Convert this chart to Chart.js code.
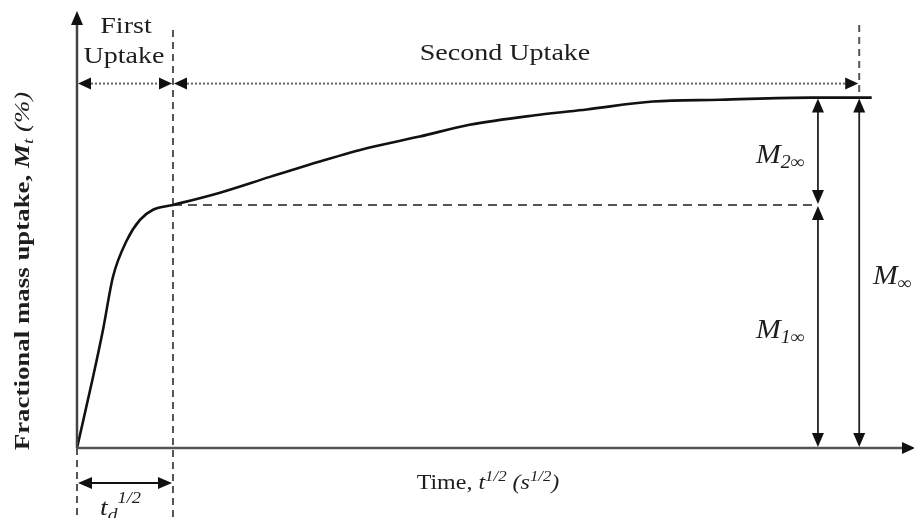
<!DOCTYPE html>
<html>
<head>
<meta charset="utf-8">
<script src="https://cdn.jsdelivr.net/npm/chart.js@4/dist/chart.umd.min.js"></script>
<style>
html,body{margin:0;padding:0;background:#fff;}
#wrap{width:914px;height:518px;position:relative;}
</style>
</head>
<body>
<div id="wrap"><canvas id="c"></canvas></div>
<script>
// ---- data (time^1/2 in arbitrary units, mass uptake in %) ----
const curveX = [0, 1.67, 2.71, 3.75, 5.21, 6.56, 7.92, 10, 14.9, 20.1, 25.3, 30.5, 35.7, 40.9, 48.2, 53.1, 60, 67, 76.4, 82.8];
const curveY = [0, 16.2, 27.0, 39.1, 47.5, 52.1, 54.4, 55.5, 58.3, 61.9, 65.4, 68.6, 71.1, 73.8, 76.1, 77.3, 79.1, 79.5, 80, 80];
const tdHalf = 10;        // end of first uptake (t_d^1/2)
const M1inf = 55.5;       // first-stage equilibrium uptake
const Minf = 80;          // total equilibrium uptake
const xM12 = 77.2;        // x of M1∞ / M2∞ dimension arrows
const xMinf = 81.5;       // x of M∞ dimension arrow
const yBracket = 83.2;    // level of the "uptake" span arrows
const xMax = 87, yMax = 100;

const FONT = '"Liberation Serif", Tinos, "Times New Roman", serif';
const INK = '#1e1e1e';

function rich(ctx, segs, x, y, align, sx) {
  let total = 0;
  for (const s of segs) { ctx.font = s.font; s.w = ctx.measureText(s.t).width; total += s.w; }
  const start = align === 'center' ? x - total * sx / 2 : x;
  ctx.save();
  ctx.translate(start, y);
  ctx.scale(sx, 1);
  ctx.fillStyle = INK;
  ctx.textBaseline = 'alphabetic';
  ctx.textAlign = 'left';
  let cx = 0;
  for (const s of segs) { ctx.font = s.font; ctx.fillText(s.t, cx, s.dy || 0); cx += s.w; }
  ctx.restore();
}

function head(ctx, x, y, dir, len, half) {
  ctx.beginPath();
  ctx.moveTo(x, y);
  if (dir === 'up') { ctx.lineTo(x - half, y + len); ctx.lineTo(x + half, y + len); }
  if (dir === 'down') { ctx.lineTo(x - half, y - len); ctx.lineTo(x + half, y - len); }
  if (dir === 'left') { ctx.lineTo(x + len, y - half); ctx.lineTo(x + len, y + half); }
  if (dir === 'right') { ctx.lineTo(x - len, y - half); ctx.lineTo(x - len, y + half); }
  ctx.closePath();
  ctx.fillStyle = '#111';
  ctx.fill();
}

function line(ctx, x1, y1, x2, y2, color, w, dash) {
  ctx.save();
  ctx.beginPath();
  ctx.strokeStyle = color;
  ctx.lineWidth = w;
  ctx.setLineDash(dash || []);
  ctx.moveTo(x1, y1);
  ctx.lineTo(x2, y2);
  ctx.stroke();
  ctx.restore();
}

const guides = {
  id: 'guides',
  beforeDatasetsDraw(chart) {
    const ctx = chart.ctx, xs = chart.scales.x, ys = chart.scales.y;
    const X = v => xs.getPixelForValue(v), Y = v => ys.getPixelForValue(v);
    const H = chart.height;
    line(ctx, X(tdHalf), 30, X(tdHalf), H, '#555', 2, [7, 5]);
    line(ctx, X(0), Y(0), X(0), H, '#555', 2, [7, 5]);
    line(ctx, X(xMinf), 25, X(xMinf), Y(Minf), '#555', 2, [7, 5]);
    line(ctx, X(tdHalf), Y(M1inf), X(xM12), Y(M1inf), '#555', 2, [9, 6]);
  },
  afterDatasetsDraw(chart) {
    const ctx = chart.ctx, xs = chart.scales.x, ys = chart.scales.y;
    const X = v => xs.getPixelForValue(v), Y = v => ys.getPixelForValue(v);
    const W = chart.width;
    // axes
    line(ctx, X(0), Y(0), X(0), 20, '#444', 2.5);
    head(ctx, X(0), 11, 'up', 14, 6);
    line(ctx, X(0), Y(0), W - 8, Y(0), '#555', 2.5);
    head(ctx, W + 1, Y(0), 'right', 13, 6);

    // top span arrows (dotted)
    const yb = Y(yBracket);
    line(ctx, X(0) + 10, yb, X(tdHalf) - 10, yb, '#666', 2, [2, 2]);
    head(ctx, X(0) + 1, yb, 'left', 13, 6);
    head(ctx, X(tdHalf) - 1, yb, 'right', 13, 6);
    line(ctx, X(tdHalf) + 10, yb, X(xMinf) - 10, yb, '#666', 2, [2, 2]);
    head(ctx, X(tdHalf) + 1, yb, 'left', 13, 6);
    head(ctx, X(xMinf) - 1, yb, 'right', 13, 6);

    // bottom t_d span arrow
    const yt = Y(0) + 35;
    line(ctx, X(0) + 8, yt, X(tdHalf) - 8, yt, '#111', 2.2);
    head(ctx, X(0) + 1, yt, 'left', 14, 6);
    head(ctx, X(tdHalf) - 1, yt, 'right', 14, 6);

    // dimension arrows
    const dim = (x, v1, v2) => {
      const yTop = Y(v2), yBot = Y(v1);
      line(ctx, x, yTop + 8, x, yBot - 8, '#222', 1.8);
      head(ctx, x, yTop + 1, 'up', 14, 6);
      head(ctx, x, yBot - 1, 'down', 14, 6);
    };
    dim(X(xM12), M1inf, Minf);
    dim(X(xM12), 0, M1inf);
    dim(X(xMinf), 0, Minf);

    // texts
    const R = s => s + 'px ' + FONT;
    const I = s => 'italic ' + s + 'px ' + FONT;
    const B = s => 'bold ' + s + 'px ' + FONT;
    const midFirst = (X(0) + X(tdHalf)) / 2;
    rich(ctx, [{t: 'First', font: R(23)}], midFirst + 1, 33, 'center', 1.22);
    rich(ctx, [{t: 'Uptake', font: R(23)}], midFirst - 1, 63, 'center', 1.22);
    rich(ctx, [{t: 'Second Uptake', font: R(23)}], 505, 60, 'center', 1.22);

    rich(ctx, [{t: 'M', font: I(27)}, {t: '2∞', font: I(18), dy: 5}], 756, 163, 'left', 1.1);
    rich(ctx, [{t: 'M', font: I(27)}, {t: '1∞', font: I(18), dy: 5}], 756, 338, 'left', 1.1);
    rich(ctx, [{t: 'M', font: I(27)}, {t: '∞', font: I(18), dy: 5}], 873, 284, 'left', 1.1);

    rich(ctx, [{t: 'Time, ', font: R(20)}, {t: 't', font: I(20)}, {t: '1/2', font: I(14), dy: -8},
               {t: ' (s', font: I(20)}, {t: '1/2', font: I(14), dy: -8}, {t: ')', font: I(20)}],
         488, 489, 'center', 1.2);

    rich(ctx, [{t: 't', font: I(24)}, {t: 'd', font: I(17), dy: 5}, {t: '1/2', font: I(16), dy: -12}],
         100, 515, 'left', 1.15);

    ctx.save();
    ctx.translate(29, 271);
    ctx.rotate(-Math.PI / 2);
    rich(ctx, [{t: 'Fractional mass uptake, ', font: B(21)}, {t: 'M', font: 'bold italic 21px ' + FONT},
               {t: 't', font: 'italic 15px ' + FONT, dy: 4}, {t: ' (%)', font: 'italic 21px ' + FONT}],
         0, 0, 'center', 1.28);
    ctx.restore();
  }
};

new Chart(document.getElementById('c'), {
  type: 'line',
  data: {
    datasets: [{
      data: curveX.map((x, i) => ({x: x, y: curveY[i]})),
      borderColor: '#111',
      borderWidth: 2.6,
      pointRadius: 0,
      cubicInterpolationMode: 'monotone',
      fill: false
    }]
  },
  options: {
    responsive: true,
    maintainAspectRatio: false,
    animation: false,
    layout: {padding: {left: 77, right: 2, top: 10, bottom: 70}},
    plugins: {legend: {display: false}, tooltip: {enabled: false}},
    scales: {
      x: {type: 'linear', min: 0, max: xMax, display: false},
      y: {type: 'linear', min: 0, max: yMax, display: false}
    }
  },
  plugins: [guides]
});
</script>
</body>
</html>
